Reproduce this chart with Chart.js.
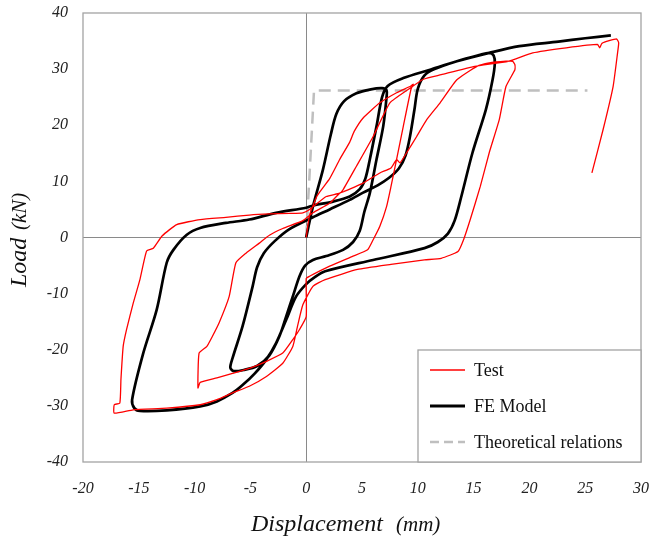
<!DOCTYPE html>
<html><head><meta charset="utf-8">
<script src="https://cdn.jsdelivr.net/npm/chart.js@4"></script>
<style>html,body{margin:0;padding:0;background:#fff}</style></head>
<body>
<canvas id="c" width="650" height="541"></canvas>
<script>
// ---- tick values ----
const xTickValues = [-20, -15, -10, -5, 0, 5, 10, 15, 20, 25, 30];
const yTickValues = [-40, -30, -20, -10, 0, 10, 20, 30, 40];

// ---- series labels ----
const seriesNames = ['Test', 'FE Model', 'Theoretical relations'];
const xTitleParts = ['Displacement', '(mm)'];
const yTitleParts = ['Load', '(kN)'];

// ---- Test (red) : [displacement mm, load kN] ----
const testCurve = [
  [0,0],[0.3,4.0],[1.0,7.5],[2.1,10.5],[3.0,13.9],[3.9,17.0],[4.3,18.9],[5.1,21.3],[6.6,24.0],[8.1,25.8],[9.3,26.9],[9.6,27.3],
  [9.4,26.5],[8.7,19.8],[8.1,13.9],[7.6,9.1],[7.2,5.5],[6.6,2.0],[6.0,-0.4],[5.5,-2.2],[4.1,-3.4],[2.1,-5.1],[0.3,-6.9],[0,-7.3],[0,-14.1],[-0.6,-16.4],[-1.2,-18.2],[-2.1,-20.6],[-3.6,-22.1],[-5.1,-23.3],[-6.6,-24.2],[-8.0,-25.0],[-9.5,-25.8],[-9.7,-26.8],
  [-9.6,-20.6],[-8.9,-19.4],[-8.4,-17.6],[-7.8,-15.2],[-6.9,-10.5],[-6.3,-4.5],[-5.4,-2.8],[-4.2,-1.0],[-3.3,0.4],[-2.1,1.6],[-0.3,3.0],[0.6,4.4],[2.1,6.1],[3.0,7.9],[3.4,8.2],[5.1,9.7],[6.6,11.5],[7.6,12.4],[8.1,13.9],[8.4,13.3],[9.0,15.1],[9.9,18.0],[10.8,21.0],[12.0,24.0],[13.5,28.1],[15.3,30.5],[16.4,31.1],[17.9,31.4],[18.5,31.4],[18.7,30.8],
  [18.7,29.9],[17.9,26.9],[17.3,21.0],[16.4,15.1],[15.6,9.1],[14.7,3.2],[14.1,-0.4],[13.6,-2.5],[12.1,-3.7],[10.6,-4.0],[7.6,-4.8],[4.6,-5.7],[1.7,-7.5],[0.6,-8.7],[-0.3,-12.0],[-0.8,-16.0],[-1.2,-19.4],[-2.1,-22.4],[-3.6,-24.8],[-5.1,-26.5],[-6.6,-27.7],[-8.0,-28.9],[-9.5,-29.8],[-12.5,-30.4],[-15.5,-30.7],[-17.2,-31.3],
  [-17.2,-29.8],[-16.7,-29.5],[-16.6,-25.3],[-16.4,-19.4],[-16.1,-16.4],[-15.5,-11.7],[-14.9,-7.5],[-14.3,-2.4],[-13.7,-1.9],[-12.9,0.3],[-11.6,2.3],[-9.5,3.2],[-7.2,3.6],[-5.1,4.0],[-3.3,4.2],[-1.5,4.3],[-0.3,4.4],[0.3,5.0],[1.8,7.3],[3.0,7.9],[3.3,8.5],[4.5,12.7],[6.0,18.0],[7.5,24.0],[9.3,26.6],[10.5,28.2],[12.1,29.0],[15.1,30.5],[18.1,31.4],[20.3,32.9],[23.3,33.8],[26.1,34.4],[26.3,33.8],[26.5,34.6],[27.8,35.4],[28.0,34.7],[27.9,32.9],[27.5,26.9],[26.6,19.2],[25.6,11.5]
];

// ---- FE Model (black) ----
const feCurve = [
  [0,0],[0.6,5.5],[1.5,12.1],[2.2,18.3],[2.7,22.0],[3.4,24.3],[4.5,25.7],[5.8,26.4],[6.8,26.6],[7.2,26.2],
  [7.2,25.0],[6.9,19.8],[6.3,13.9],[5.7,7.9],[5.2,4.5],[4.8,1.2],[4.2,-0.8],[3.3,-2.2],[1.8,-3.3],[0.6,-4.0],[-0.1,-5.0],[-0.6,-6.9],[-1.2,-10.5],[-1.8,-14.1],[-2.4,-17.6],[-3.3,-21.0],[-4.4,-22.9],[-5.6,-23.6],[-6.5,-23.8],[-6.8,-23.2],
  [-6.6,-21.5],[-5.7,-15.8],[-4.8,-8.7],[-4.4,-5.3],[-3.8,-2.8],[-2.8,-0.6],[-1.5,1.5],[0.6,3.6],[2.1,5.0],[3.9,6.7],[5.1,8.0],[6.4,9.3],[7.4,10.6],[8.3,12.3],[8.9,14.6],[9.3,18.0],[9.7,22.8],[10.0,26.5],[10.6,28.9],[11.5,30.0],[13.5,31.4],[15.5,32.5],[16.4,32.9],
  [16.8,32.4],[16.9,31.0],[16.7,28.1],[16.1,22.8],[14.9,15.1],[13.9,7.3],[13.3,3.0],[12.7,0.7],[11.8,-0.8],[10.6,-1.9],[6.0,-4.0],[1.7,-6.0],[0.8,-7.0],[0,-8.3],[-0.9,-10.5],[-1.8,-14.7],[-2.7,-18.8],[-3.6,-21.8],[-4.6,-24.2],[-5.7,-26.3],[-6.6,-27.7],[-8.0,-29.2],[-9.5,-30.1],[-12.5,-30.8],[-14.9,-30.9],[-15.4,-30.4],
  [-15.6,-28.9],[-14.6,-20.6],[-13.4,-12.9],[-12.5,-4.5],[-11.9,-2.2],[-10.7,0.5],[-9.5,1.7],[-7.2,2.6],[-5.1,3.2],[-2.7,4.4],[0,5.3],[0.6,5.7],[2.4,6.4],[3.9,7.3],[4.8,8.6],[5.3,10.5],[5.7,13.9],[6.3,19.8],[6.8,25.0],[7.3,27.0],[8.7,28.4],[11.1,29.9],[13.5,31.4],[16.4,32.9],[19.1,34.1],[22.6,34.9],[25.0,35.5],[27.3,36.0]
];

// ---- Theoretical relations (grey dashed) ----
const theoCurve = [[0,0],[0.7,26.2],[25.2,26.2]];

const FONT = "'Liberation Serif','Times New Roman',serif";
const toPts = a => a.map(p => ({x: p[0], y: p[1]}));

const decor = {
  id: 'decor',
  beforeDatasetsDraw(chart) {
    const {ctx, chartArea: a} = chart;
    ctx.save();
    ctx.strokeStyle = '#a3a3a3';
    ctx.lineWidth = 1.3;
    ctx.strokeRect(a.left, a.top, a.right - a.left, a.bottom - a.top);
    ctx.restore();
  },
  afterDraw(chart) {
    const {ctx, chartArea: a} = chart;
    ctx.save();
    // legend box
    const lx = 418, ly = 350;
    ctx.fillStyle = '#fff';
    ctx.fillRect(lx, ly, a.right - lx, a.bottom - ly);
    ctx.strokeStyle = '#a3a3a3';
    ctx.lineWidth = 1.3;
    ctx.strokeRect(lx, ly, a.right - lx, a.bottom - ly);
    const rows = [
      {name: seriesNames[0], color: '#ff0000', w: 1.3, dash: [], y: 370},
      {name: seriesNames[1], color: '#000000', w: 2.8, dash: [], y: 406},
      {name: seriesNames[2], color: '#bfbfbf', w: 2.5, dash: [9, 5], y: 442}
    ];
    ctx.font = '18px ' + FONT;
    ctx.textBaseline = 'middle';
    ctx.textAlign = 'left';
    rows.forEach(r => {
      ctx.beginPath();
      ctx.setLineDash(r.dash);
      ctx.strokeStyle = r.color;
      ctx.lineWidth = r.w;
      ctx.moveTo(430, r.y); ctx.lineTo(465, r.y);
      ctx.stroke();
      ctx.setLineDash([]);
      ctx.fillStyle = '#111';
      ctx.fillText(r.name, 474, r.y + 1);
    });
    // axis titles
    ctx.fillStyle = '#111';
    ctx.textAlign = 'left';
    ctx.textBaseline = 'alphabetic';
    ctx.font = 'italic 24px ' + FONT;
    ctx.fillText(xTitleParts[0], 251, 531);
    ctx.font = 'italic 21px ' + FONT;
    ctx.fillText(xTitleParts[1], 396, 531);
    ctx.translate(26, 287);
    ctx.rotate(-Math.PI / 2);
    ctx.font = 'italic 24px ' + FONT;
    ctx.fillText(yTitleParts[0], 0, 0);
    ctx.font = 'italic 21px ' + FONT;
    ctx.fillText(yTitleParts[1], 57, 0);
    ctx.restore();
  }
};

const zeroGrid = c => (c.tick && c.tick.value === 0) ? '#8a8a8a' : 'rgba(0,0,0,0)';

new Chart(document.getElementById('c'), {
  type: 'scatter',
  data: {
    datasets: [
      {label: seriesNames[0], data: toPts(testCurve), showLine: true, borderColor: '#ff0000', borderWidth: 1.3, pointRadius: 0, tension: 0.15, order: 1},
      {label: seriesNames[1], data: toPts(feCurve), showLine: true, borderColor: '#000000', borderWidth: 2.7, pointRadius: 0, tension: 0.3, order: 2},
      {label: seriesNames[2], data: toPts(theoCurve), showLine: true, borderColor: '#bfbfbf', borderWidth: 2.5, borderDash: [12, 7], pointRadius: 0, tension: 0, order: 3}
    ]
  },
  options: {
    responsive: false,
    animation: false,
    events: [],
    layout: {padding: {left: 0, right: 9, top: 13, bottom: 0}},
    plugins: {legend: {display: false}, tooltip: {enabled: false}},
    scales: {
      x: {
        type: 'linear', min: -20, max: 30,
        afterBuildTicks: s => { s.ticks = xTickValues.map(v => ({value: v})); },
        afterFit: s => { s.height = 79; s.paddingLeft = 0; s.paddingRight = 0; },
        grid: {drawTicks: false, color: zeroGrid, lineWidth: 1},
        border: {display: false},
        ticks: {padding: 17, font: {family: FONT, size: 16, style: 'italic'}, color: '#222', maxRotation: 0, autoSkip: false}
      },
      y: {
        type: 'linear', min: -40, max: 40,
        afterBuildTicks: s => { s.ticks = yTickValues.map(v => ({value: v})); },
        afterFit: s => { s.width = 83; s.paddingTop = 0; s.paddingBottom = 0; },
        grid: {drawTicks: false, color: zeroGrid, lineWidth: 1},
        border: {display: false},
        ticks: {padding: 15, font: {family: FONT, size: 16, style: 'italic'}, color: '#222', autoSkip: false}
      }
    }
  },
  plugins: [decor]
});
</script>
</body></html>
